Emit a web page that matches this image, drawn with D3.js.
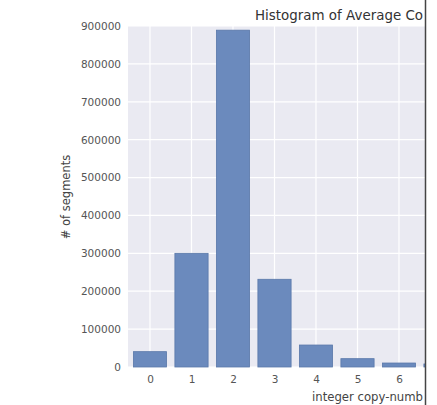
<!DOCTYPE html>
<html><head><meta charset="utf-8">
<script src="https://cdn.jsdelivr.net/npm/d3@7"></script>
<style>html,body{margin:0;padding:0;background:#fff;overflow:hidden}svg{display:block}</style>
</head><body>
<svg id="c" width="437" height="405"></svg>
<script>
const categories = [0, 1, 2, 3, 4, 5, 6, 7];
const counts = [40500, 300000, 889000, 231500, 58000, 22000, 10500, 8000];
const yTicks = [0, 100000, 200000, 300000, 400000, 500000, 600000, 700000, 800000, 900000];
const xTicks = [0, 1, 2, 3, 4, 5, 6];
const title = "Histogram of Average Co";
const xLabel = "integer copy-numb";
const yLabel = "# of segments";

const svg = d3.select("#c");
const font = "'DejaVu Sans', sans-serif";
const plotLeft = 128, plotTop = 26, plotBottom = 367, unit = 41.5, cutX = 425;
const x = d3.scaleLinear().domain([-0.53, 7.6]).range([plotLeft, plotLeft + 8.13 * unit]);
const y = d3.scaleLinear().domain([0, 900000]).range([plotBottom, plotTop]);

svg.append("defs").append("clipPath").attr("id", "cut")
  .append("rect").attr("x", 0).attr("y", 0).attr("width", cutX).attr("height", 405);

const g = svg.append("g").attr("clip-path", "url(#cut)");

g.append("rect").attr("x", x.range()[0]).attr("y", plotTop)
  .attr("width", x.range()[1] - x.range()[0]).attr("height", plotBottom - plotTop)
  .attr("fill", "#EAEAF2");

g.append("g").selectAll("line").data(yTicks).join("line")
  .attr("x1", x.range()[0]).attr("x2", x.range()[1])
  .attr("y1", d => y(d)).attr("y2", d => y(d))
  .attr("stroke", "#fff").attr("stroke-width", 1.2);
g.append("g").selectAll("line").data(xTicks).join("line")
  .attr("x1", d => x(d)).attr("x2", d => x(d))
  .attr("y1", plotTop).attr("y2", plotBottom)
  .attr("stroke", "#fff").attr("stroke-width", 1.2);

g.append("g").selectAll("rect").data(categories).join("rect")
  .attr("x", (d) => x(d - 0.4)).attr("width", x(0.4) - x(-0.4))
  .attr("y", (d, i) => y(counts[i])).attr("height", (d, i) => y(0) - y(counts[i]))
  .attr("fill", "#6b8abd").attr("stroke", "#5a78aa").attr("stroke-width", 0.8);

// y axis
const yAxis = d3.axisLeft(y).tickValues(yTicks).tickSize(0).tickPadding(7).tickFormat(d3.format("d"));
const ya = g.append("g").attr("transform", `translate(${plotLeft},0)`).call(yAxis);
ya.select(".domain").remove();
ya.selectAll("text").attr("font-family", font).attr("font-size", "10.5px").attr("fill", "#555");

// x axis
const xAxis = d3.axisBottom(x).tickValues(xTicks).tickSize(0).tickPadding(9).tickFormat(d3.format("d"));
const xa = g.append("g").attr("transform", `translate(0,${plotBottom})`).call(xAxis);
xa.select(".domain").remove();
xa.selectAll("text").attr("font-family", font).attr("font-size", "10.5px").attr("fill", "#555");

g.append("text").attr("x", 255).attr("y", 20).text(title)
  .attr("font-family", font).attr("font-size", "13.3px").attr("fill", "#333")
  .attr("textLength", 168).attr("lengthAdjust", "spacingAndGlyphs");
g.append("text").attr("x", 312).attr("y", 401).text(xLabel)
  .attr("font-family", font).attr("font-size", "12.2px").attr("fill", "#444")
  .attr("textLength", 111).attr("lengthAdjust", "spacingAndGlyphs");
g.append("text").attr("transform", "translate(70,197) rotate(-90)")
  .attr("text-anchor", "middle").text(yLabel)
  .attr("font-family", font).attr("font-size", "11.5px").attr("fill", "#444");

svg.append("line").attr("x1", cutX + 0.5).attr("x2", cutX + 0.5).attr("y1", 0).attr("y2", 405)
  .attr("stroke", "#444").attr("stroke-width", 1.5);
</script>
</body></html>
